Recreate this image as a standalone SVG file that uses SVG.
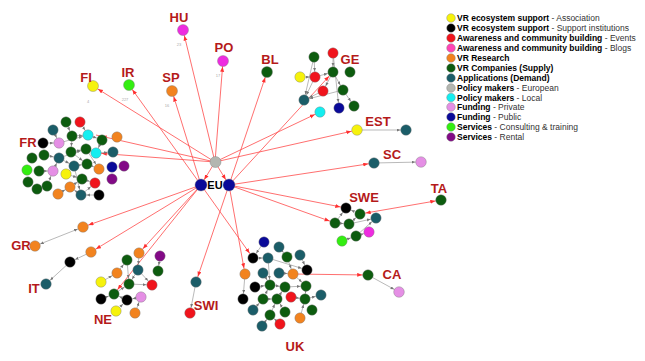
<svg xmlns="http://www.w3.org/2000/svg" width="645" height="361" viewBox="0 0 645 361">
<defs>
<style>
.bg{fill:#fff}
circle{stroke:#7a7a7a;stroke-width:0.4}
.y{fill:#f6f20c}.k{fill:#000}.r{fill:#f0141c}.m{fill:#ee2be0}.o{fill:#f2831f}.g{fill:#0d5c0f}.t{fill:#1b5d68}.gr{fill:#b3b6b0}.c{fill:#14eef0}.v{fill:#e58fe5}.n{fill:#0a0a99}.l{fill:#33ee11}.p{fill:#820a86}.pk{fill:#ff44b4}
.red{stroke:#ff4a4a;stroke-width:0.8;fill:none;marker-end:url(#ar)}
.gy{stroke:#8a8a8a;stroke-width:0.6;fill:none;marker-end:url(#ag)}
.gy2{stroke:#8a8a8a;stroke-width:0.6;fill:none;marker-end:url(#ag);marker-start:url(#ag)}
.cty{font-family:"Liberation Sans",Arial,sans-serif;font-weight:bold;font-size:13px;fill:#b51a1a;text-anchor:middle}
.eu{font-family:"Liberation Sans",Arial,sans-serif;font-weight:bold;font-size:11px;fill:#000;text-anchor:middle}
.lg{font-family:"Liberation Sans",Arial,sans-serif;font-size:8.5px;fill:#333}
.lg tspan.b{font-weight:bold;fill:#000}
.sm{font-family:"Liberation Sans",Arial,sans-serif;font-size:4px;fill:#aaa;text-anchor:middle}
</style>
<marker id="ar" markerUnits="userSpaceOnUse" markerWidth="6" markerHeight="5" refX="10.8" refY="2" orient="auto-start-reverse"><path d="M0,0 L5,2 L0,4 z" fill="#ff3030"/></marker>
<marker id="arN" markerUnits="userSpaceOnUse" markerWidth="6" markerHeight="5" refX="11.3" refY="2" orient="auto"><path d="M0,0 L5,2 L0,4 z" fill="#ff3030"/></marker>
<marker id="ag" markerUnits="userSpaceOnUse" markerWidth="5" markerHeight="4" refX="9.2" refY="1.5" orient="auto-start-reverse"><path d="M0,0 L3.5,1.5 L0,3 z" fill="#777"/></marker>
</defs>
<rect class="bg" x="0" y="0" width="645" height="361"/>

<g id="connectors">
<path class="red" d="M215,162 L183,30"/>
<path class="red" d="M215,162 L223,61"/>
<path class="red" d="M215,162 L96,135"/>
<path class="red" d="M215,162 L96,153"/>
<path class="red" d="M215,162 L320,112"/>
<path class="red" d="M215,162 L357,130"/>
<path class="red" d="M215,162 L93,86"/>
<path class="red" d="M215,162 L201,185" style="marker-end:url(#arN)"/>
<path class="red" d="M215,162 L229,185" style="marker-end:url(#arN)"/>
<path class="red" d="M201,185 L172,91"/>
<path class="red" d="M201,185 L129,85"/>
<path class="red" d="M201,185 L83,227"/>
<path class="red" d="M201,185 L91,252"/>
<path class="red" d="M201,185 L139,253"/>
<path class="red" d="M201,185 L114,294"/>
<path class="red" d="M201,185 L253,258"/>
<path class="red" d="M229,185 L267,72"/>
<path class="red" d="M229,185 L333,72"/>
<path class="red" d="M229,185 L374,163"/>
<path class="red" d="M229,185 L346,208"/>
<path class="red" d="M229,185 L335,223"/>
<path class="red" d="M229,185 L196,282"/>
<path class="red" d="M229,185 L245,274"/>
<path class="red" d="M293,274 L368,275"/>
<path class="red" d="M360,214 L441,200" style="marker-start:url(#ar)"/>

<path class="gy" d="M357,130 L406,130"/>
<path class="gy" d="M374,163 L421,162"/>
<path class="gy" d="M368,275 L399,292"/>
<path class="gy2" d="M83,227 L35,246"/>
<path class="gy" d="M91,252 L70,262"/>
<path class="gy" d="M70,262 L46,284"/>
<path class="gy" d="M196,282 L190,313"/>

<path class="gy" d="M59,143 L88,135"/>
<path class="gy" d="M72,136 L88,135"/>
<path class="gy" d="M88,135 L102,140"/>
<path class="gy" d="M102,140 L96,153"/>
<path class="gy" d="M86,149 L96,153"/>
<path class="gy" d="M71,152 L86,149"/>
<path class="gy" d="M59,158 L86,149"/>
<path class="gy" d="M59,158 L74,166"/>
<path class="gy" d="M74,166 L87,164"/>
<path class="gy" d="M87,164 L99,169"/>
<path class="gy" d="M53,171 L59,158"/>
<path class="gy" d="M66,174 L74,166"/>
<path class="gy" d="M66,174 L82,179"/>
<path class="gy" d="M82,179 L95,183"/>
<path class="gy" d="M70,187 L82,179"/>
<path class="gy" d="M58,194 L70,187"/>
<path class="gy" d="M81,195 L70,187"/>
<path class="gy" d="M99,195 L81,195"/>
<path class="gy" d="M81,195 L95,183"/>
<path class="gy" d="M47,186 L53,171"/>
<path class="gy" d="M39,171 L53,171"/>
<path class="gy" d="M53,130 L59,143"/>
<path class="gy" d="M66,122 L72,136"/>
<path class="gy" d="M80,122 L88,135"/>
<path class="gy" d="M43,143 L59,143"/>
<path class="gy" d="M44,155 L59,158"/>
<path class="gy" d="M71,152 L87,164"/>
<path class="gy" d="M96,153 L113,152"/>
<path class="gy" d="M74,166 L81,195"/>
<path class="gy" d="M72,136 L71,152"/>
<path class="gy" d="M86,149 L99,169"/>

<path class="gy" d="M314,57 L315,77"/>
<path class="gy" d="M314,57 L304,100"/>
<path class="gy" d="M315,77 L333,72"/>
<path class="gy" d="M333,53 L333,72"/>
<path class="gy" d="M333,72 L323,91"/>
<path class="gy" d="M315,77 L304,100"/>
<path class="gy" d="M323,91 L304,100"/>
<path class="gy" d="M343,90 L304,100"/>
<path class="gy" d="M333,72 L343,90"/>
<path class="gy" d="M343,90 L354,106"/>
<path class="gy" d="M333,53 L339,108"/>
<path class="gy" d="M300,77 L315,77"/>

<path class="gy" d="M360,214 L346,208"/>
<path class="gy" d="M335,223 L346,208"/>
<path class="gy" d="M349,224 L360,214"/>
<path class="gy" d="M349,224 L376,218"/>
<path class="gy" d="M356,236 L376,218"/>
<path class="gy" d="M356,236 L369,232"/>
<path class="gy" d="M342,241 L356,236"/>
<path class="gy" d="M335,223 L349,224"/>

<path class="gy" d="M139,253 L138,270"/>
<path class="gy" d="M117,273 L127,260"/>
<path class="gy" d="M101,282 L117,273"/>
<path class="gy" d="M138,270 L129,284"/>
<path class="gy" d="M160,256 L158,271"/>
<path class="gy" d="M138,270 L152,285"/>
<path class="gy" d="M129,284 L152,285"/>
<path class="gy" d="M114,294 L129,284"/>
<path class="gy" d="M101,299 L114,294"/>
<path class="gy" d="M127,300 L114,294"/>
<path class="gy" d="M141,297 L127,300"/>
<path class="gy" d="M116,311 L127,300"/>
<path class="gy" d="M135,313 L141,297"/>
<path class="gy" d="M127,260 L129,284"/>

<path class="gy" d="M264,242 L253,258"/>
<path class="gy" d="M253,258 L268,258"/>
<path class="gy" d="M268,258 L307,270"/>
<path class="gy" d="M268,258 L270,285"/>
<path class="gy" d="M287,257 L293,274"/>
<path class="gy" d="M300,255 L307,270"/>
<path class="gy" d="M279,273 L293,274"/>
<path class="gy" d="M263,273 L270,285"/>
<path class="gy" d="M270,285 L285,287"/>
<path class="gy" d="M285,287 L306,286"/>
<path class="gy" d="M293,274 L306,286"/>
<path class="gy" d="M245,274 L243,299"/>
<path class="gy" d="M255,287 L270,285"/>
<path class="gy" d="M263,299 L270,285"/>
<path class="gy" d="M277,299 L285,287"/>
<path class="gy" d="M291,297 L305,299"/>
<path class="gy" d="M263,299 L277,299"/>
<path class="gy" d="M253,310 L263,299"/>
<path class="gy" d="M270,315 L277,299"/>
<path class="gy" d="M285,312 L277,299"/>
<path class="gy" d="M300,318 L305,299"/>
<path class="gy" d="M306,286 L305,299"/>
<path class="gy" d="M305,299 L321,295"/>
<path class="gy" d="M280,324 L270,315"/>
<path class="gy" d="M262,326 L270,315"/>
<path class="gy" d="M279,247 L287,257"/>
</g>

<g id="eu">
<g id="eu-gray"><circle class="gr" cx="215.5" cy="162" r="5.5"/></g>
<g id="eu-left"><circle class="n" cx="201" cy="185" r="6"/></g>
<g id="eu-right"><circle class="n" cx="229" cy="185" r="6"/></g>
<text class="eu" x="215" y="189">EU</text>
</g>

<g id="hu"><circle class="m" cx="183" cy="30" r="5.5"/><text class="cty" x="179" y="22">HU</text><text class="sm" x="179" y="46">23</text></g>
<g id="po"><circle class="m" cx="223" cy="61" r="5.5"/><text class="cty" x="224" y="52">PO</text><text class="sm" x="218" y="77">17</text></g>
<g id="bl"><circle class="g" cx="267" cy="72" r="5.5"/><text class="cty" x="270" y="64">BL</text></g>
<g id="sp"><circle class="o" cx="172" cy="91" r="5.5"/><text class="cty" x="171" y="82">SP</text><text class="sm" x="167" y="107">16</text></g>
<g id="fi"><circle class="y" cx="93" cy="86" r="5.5"/><text class="cty" x="86" y="82">FI</text><text class="sm" x="88" y="103">4</text></g>
<g id="ir"><circle class="l" cx="129" cy="85" r="5.5"/><text class="cty" x="128" y="77">IR</text><text class="sm" x="125" y="101">227</text></g>

<g id="fr">
<text class="cty" x="28" y="147">FR</text>
<circle class="g" cx="66" cy="122" r="5.2"/>
<circle class="r" cx="80" cy="122" r="5.2"/>
<circle class="t" cx="53" cy="130" r="5.2"/>
<circle class="g" cx="72" cy="136" r="5.2"/>
<circle class="c" cx="88" cy="135" r="5.2"/>
<circle class="o" cx="117" cy="137" r="5.2"/>
<circle class="k" cx="43" cy="143" r="5.2"/>
<circle class="v" cx="59" cy="143" r="5.2"/>
<circle class="g" cx="102" cy="140" r="5.2"/>
<circle class="g" cx="86" cy="149" r="5.2"/>
<circle class="c" cx="96" cy="153" r="5.2"/>
<circle class="t" cx="113" cy="152" r="5.2"/>
<circle class="g" cx="71" cy="152" r="5.2"/>
<circle class="g" cx="44" cy="155" r="5.2"/>
<circle class="g" cx="32" cy="158" r="5.2"/>
<circle class="t" cx="59" cy="158" r="5.2"/>
<circle class="g" cx="87" cy="164" r="5.2"/>
<circle class="t" cx="74" cy="166" r="5.2"/>
<circle class="o" cx="99" cy="169" r="5.2"/>
<circle class="n" cx="112" cy="167" r="5.2"/>
<circle class="p" cx="124" cy="166" r="5.2"/>
<circle class="l" cx="27" cy="170" r="5.2"/>
<circle class="g" cx="39" cy="171" r="5.2"/>
<circle class="v" cx="53" cy="171" r="5.2"/>
<circle class="y" cx="66" cy="174" r="5.2"/>
<circle class="g" cx="82" cy="179" r="5.2"/>
<circle class="r" cx="95" cy="183" r="5.2"/>
<circle class="p" cx="112" cy="179" r="5.2"/>
<circle class="g" cx="28" cy="182" r="5.2"/>
<circle class="g" cx="47" cy="186" r="5.2"/>
<circle class="o" cx="70" cy="187" r="5.2"/>
<circle class="g" cx="37" cy="189" r="5.2"/>
<circle class="o" cx="58" cy="194" r="5.2"/>
<circle class="t" cx="81" cy="195" r="5.2"/>
<circle class="k" cx="99" cy="195" r="5.2"/>
</g>

<g id="ge">
<text class="cty" x="350" y="64">GE</text>
<circle class="g" cx="314" cy="57" r="5.2"/>
<circle class="r" cx="333" cy="53" r="5.2"/>
<circle class="y" cx="300" cy="77" r="5.2"/>
<circle class="r" cx="315" cy="77" r="5.2"/>
<circle class="g" cx="333" cy="72" r="5.2"/>
<circle class="g" cx="350" cy="72" r="5.2"/>
<circle class="r" cx="323" cy="91" r="5.2"/>
<circle class="g" cx="343" cy="90" r="5.2"/>
<circle class="t" cx="304" cy="100" r="5.2"/>
<circle class="c" cx="320" cy="112" r="5.2"/>
<circle class="n" cx="339" cy="108" r="5.2"/>
<circle class="g" cx="354" cy="106" r="5.2"/>
</g>

<g id="est"><text class="cty" x="378" y="126">EST</text><circle class="y" cx="357" cy="130" r="5.3"/><circle class="t" cx="406" cy="130" r="5.3"/></g>
<g id="sc"><text class="cty" x="392" y="159">SC</text><circle class="t" cx="374" cy="163" r="5.3"/><circle class="v" cx="421" cy="162" r="5.3"/></g>
<g id="ta"><text class="cty" x="439" y="193">TA</text><circle class="g" cx="441" cy="200" r="5.3"/></g>
<g id="ca"><text class="cty" x="392" y="279">CA</text><circle class="g" cx="368" cy="275" r="5.3"/><circle class="v" cx="399" cy="292" r="5.3"/></g>

<g id="swe">
<text class="cty" x="364" y="202">SWE</text>
<circle class="k" cx="346" cy="208" r="5.2"/>
<circle class="g" cx="360" cy="214" r="5.2"/>
<circle class="t" cx="376" cy="218" r="5.2"/>
<circle class="g" cx="335" cy="223" r="5.2"/>
<circle class="g" cx="349" cy="224" r="5.2"/>
<circle class="m" cx="369" cy="232" r="5.2"/>
<circle class="g" cx="356" cy="236" r="5.2"/>
<circle class="l" cx="342" cy="241" r="5.2"/>
</g>

<g id="gr"><text class="cty" x="21" y="250">GR</text><circle class="o" cx="35" cy="246" r="5.3"/><circle class="o" cx="83" cy="227" r="5.3"/></g>
<g id="it"><text class="cty" x="34" y="293">IT</text><circle class="o" cx="91" cy="252" r="5.3"/><circle class="k" cx="70" cy="262" r="5.3"/><circle class="t" cx="46" cy="284" r="5.3"/></g>
<g id="swi"><text class="cty" x="206" y="310">SWI</text><circle class="t" cx="196" cy="282" r="5.3"/><circle class="r" cx="190" cy="313" r="5.3"/></g>

<g id="ne">
<text class="cty" x="103" y="324">NE</text>
<circle class="o" cx="139" cy="253" r="5.2"/>
<circle class="p" cx="160" cy="256" r="5.2"/>
<circle class="g" cx="127" cy="260" r="5.2"/>
<circle class="t" cx="138" cy="270" r="5.2"/>
<circle class="g" cx="158" cy="271" r="5.2"/>
<circle class="o" cx="117" cy="273" r="5.2"/>
<circle class="y" cx="101" cy="282" r="5.2"/>
<circle class="g" cx="129" cy="284" r="5.2"/>
<circle class="r" cx="152" cy="285" r="5.2"/>
<circle class="g" cx="114" cy="294" r="5.2"/>
<circle class="k" cx="101" cy="299" r="5.2"/>
<circle class="k" cx="127" cy="300" r="5.2"/>
<circle class="v" cx="141" cy="297" r="5.2"/>
<circle class="y" cx="116" cy="311" r="5.2"/>
<circle class="o" cx="135" cy="313" r="5.2"/>
</g>

<g id="uk">
<text class="cty" x="295" y="351">UK</text>
<circle class="n" cx="264" cy="242" r="5.2"/>
<circle class="t" cx="279" cy="247" r="5.2"/>
<circle class="k" cx="253" cy="258" r="5.2"/>
<circle class="t" cx="268" cy="258" r="5.2"/>
<circle class="g" cx="287" cy="257" r="5.2"/>
<circle class="t" cx="300" cy="255" r="5.2"/>
<circle class="k" cx="307" cy="270" r="5.2"/>
<circle class="o" cx="245" cy="274" r="5.2"/>
<circle class="t" cx="263" cy="273" r="5.2"/>
<circle class="t" cx="279" cy="273" r="5.2"/>
<circle class="o" cx="293" cy="274" r="5.2"/>
<circle class="g" cx="270" cy="285" r="5.2"/>
<circle class="g" cx="285" cy="287" r="5.2"/>
<circle class="g" cx="306" cy="286" r="5.2"/>
<circle class="k" cx="255" cy="287" r="5.2"/>
<circle class="k" cx="243" cy="299" r="5.2"/>
<circle class="g" cx="263" cy="299" r="5.2"/>
<circle class="g" cx="277" cy="299" r="5.2"/>
<circle class="r" cx="291" cy="297" r="5.2"/>
<circle class="g" cx="305" cy="299" r="5.2"/>
<circle class="t" cx="321" cy="295" r="5.2"/>
<circle class="t" cx="253" cy="310" r="5.2"/>
<circle class="g" cx="270" cy="315" r="5.2"/>
<circle class="g" cx="285" cy="312" r="5.2"/>
<circle class="g" cx="312" cy="310" r="5.2"/>
<circle class="o" cx="300" cy="318" r="5.2"/>
<circle class="t" cx="262" cy="326" r="5.2"/>
<circle class="r" cx="280" cy="324" r="5.2"/>
</g>

<g id="legend">
<circle class="y" cx="451" cy="18" r="4.3"/><text class="lg" x="457" y="21"><tspan class="b">VR ecosystem support</tspan> - Association</text>
<circle class="k" cx="451" cy="28" r="4.3"/><text class="lg" x="457" y="31"><tspan class="b">VR ecosystem support</tspan> - Support institutions</text>
<circle class="r" cx="451" cy="38" r="4.3"/><text class="lg" x="457" y="41"><tspan class="b">Awareness and community building</tspan> - Events</text>
<circle class="pk" cx="451" cy="48" r="4.3"/><text class="lg" x="457" y="51"><tspan class="b">Awareness and community building</tspan> - Blogs</text>
<circle class="o" cx="451" cy="58" r="4.3"/><text class="lg" x="457" y="61"><tspan class="b">VR Research</tspan></text>
<circle class="g" cx="451" cy="68" r="4.3"/><text class="lg" x="457" y="71"><tspan class="b">VR Companies (Supply)</tspan></text>
<circle class="t" cx="451" cy="78" r="4.3"/><text class="lg" x="457" y="81"><tspan class="b">Applications (Demand)</tspan></text>
<circle class="gr" cx="451" cy="88" r="4.3"/><text class="lg" x="457" y="91"><tspan class="b">Policy makers</tspan> - European</text>
<circle class="c" cx="451" cy="97.5" r="4.3"/><text class="lg" x="457" y="100.5"><tspan class="b">Policy makers</tspan> - Local</text>
<circle class="v" cx="451" cy="107" r="4.3"/><text class="lg" x="457" y="110"><tspan class="b">Funding</tspan> - Private</text>
<circle class="n" cx="451" cy="117" r="4.3"/><text class="lg" x="457" y="120"><tspan class="b">Funding</tspan> - Public</text>
<circle class="l" cx="451" cy="127" r="4.3"/><text class="lg" x="457" y="130"><tspan class="b">Services</tspan> - Consulting &amp; training</text>
<circle class="p" cx="451" cy="137" r="4.3"/><text class="lg" x="457" y="140"><tspan class="b">Services</tspan> - Rental</text>
</g>
</svg>
